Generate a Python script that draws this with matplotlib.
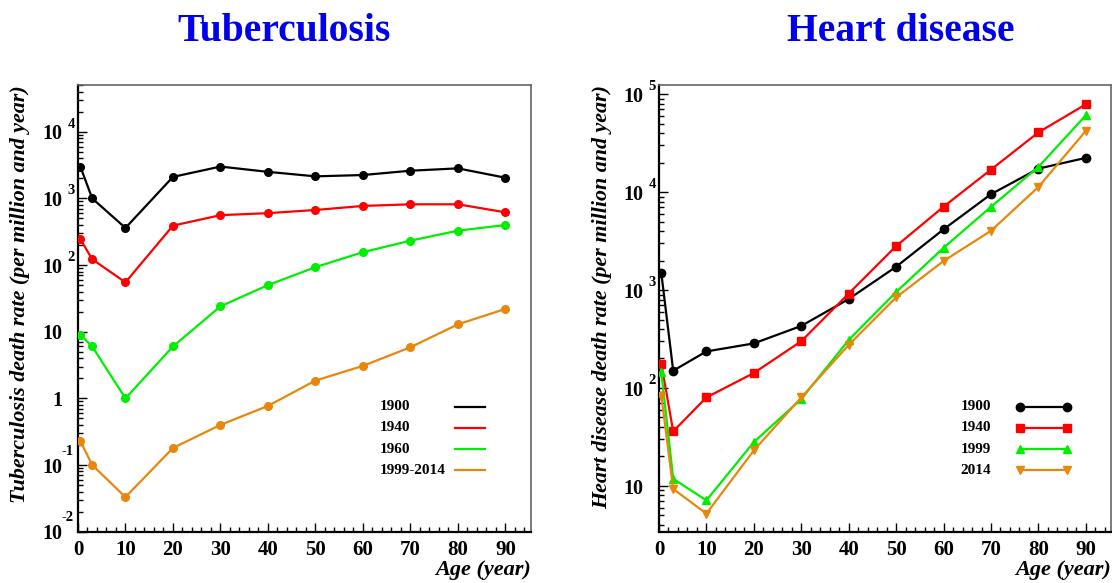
import matplotlib
matplotlib.use("Agg")
import matplotlib.pyplot as plt
import numpy as np
from matplotlib.ticker import LogLocator, MultipleLocator, NullFormatter

plt.rcParams['font.family'] = ['Liberation Serif', 'DejaVu Serif']
plt.rcParams['font.weight'] = 'bold'

# age groups (first point is the under-1 group)
ages = [0.5, 3, 10, 20, 30, 40, 50, 60, 70, 80, 90]

# tuberculosis death rate per million and year
tb_labels = ['1900', '1940', '1960', '1999-2014']
tb_1900 = [3000, 1000, 360, 2100, 3000, 2500, 2140, 2240, 2600, 2820, 2040]
tb_1940 = [245, 122, 55, 390, 560, 600, 670, 770, 815, 815, 617]
tb_1960 = [9, 6, 1, 6, 24, 50, 93, 156, 232, 328, 398]
tb_1999_2014 = [0.23, 0.1, 0.033, 0.18, 0.4, 0.77, 1.85, 3.07, 5.85, 12.9, 22]

# heart disease death rate per million and year
hd_labels = ['1900', '1940', '1999', '2014']
hd_1900 = [1480, 150, 236, 285, 430, 810, 1730, 4170, 9530, 17400, 22400]
hd_1940 = [176, 36, 80, 142, 300, 920, 2810, 7100, 17000, 40800, 79000]
hd_1999 = [144, 11.8, 7.1, 28, 77, 309, 954, 2700, 7080, 18100, 61000]
hd_2014 = [83, 9.3, 5.2, 23, 80, 275, 842, 1980, 4030, 11300, 42300]

colors = ['black', '#ff0000', '#00ee00', '#e8870c']


def style_axes(ax, ylo, yhi):
    ax.set_yscale('log')
    ax.set_xlim(0, 95.3)
    ax.set_ylim(ylo, yhi)
    ax.xaxis.set_major_locator(MultipleLocator(10))
    ax.xaxis.set_minor_locator(MultipleLocator(2))
    ax.yaxis.set_major_locator(LogLocator(base=10, numticks=20))
    ax.yaxis.set_minor_locator(LogLocator(base=10, subs=range(2, 10), numticks=20))
    ax.yaxis.set_major_formatter(NullFormatter())
    ax.yaxis.set_minor_formatter(NullFormatter())
    ax.tick_params(which='both', direction='in', top=False, right=False)
    ax.tick_params(which='major', length=6.5, width=1.0)
    ax.tick_params(which='minor', length=3.5, width=1.0)
    ax.tick_params(axis='x', labelsize=15, pad=6)
    for lab in ax.get_xticklabels():
        lab.set_fontweight('bold')
    for s in ['left', 'bottom']:
        ax.spines[s].set_linewidth(1.6)
        ax.spines[s].set_color('black')
    for s in ['top', 'right']:
        ax.spines[s].set_linewidth(1.2)
        ax.spines[s].set_color('#666666')

    # ROOT-like "10 ^n" labels
    e0 = int(np.ceil(np.log10(ylo) - 1e-9))
    e1 = int(np.floor(np.log10(yhi) + 1e-9))
    for e in range(e0, e1 + 1):
        v = 10.0 ** e
        base = '1' if e == 0 else '10'
        ax.annotate(base, xy=(0, v), xycoords=('axes fraction', 'data'),
                    xytext=(-11, -2), textcoords='offset points',
                    ha='right', va='center', fontsize=14.5, fontweight='bold')
        if e not in (0, 1):
            dx, dy = (-7.5, 5.5) if e > 0 else (-11.5, 10)
            ax.annotate(str(e), xy=(0, v), xycoords=('axes fraction', 'data'),
                        xytext=(dx, dy), textcoords='offset points',
                        ha='left', va='center', fontsize=10.5, fontweight='bold')


fig = plt.figure(figsize=(11.12, 5.83), dpi=100)
ax1 = fig.add_axes([0.0701, 0.088, 0.4071, 0.766])
ax2 = fig.add_axes([0.5926, 0.088, 0.4065, 0.766])

# left: tuberculosis
tb_series = [tb_1900, tb_1940, tb_1960, tb_1999_2014]
for vals, c in zip(tb_series, colors):
    ax1.plot(ages, vals, color=c, lw=1.6, marker='o', ms=5.5, zorder=3)
style_axes(ax1, 1e-2, 5e4)

# right: heart disease
hd_series = [hd_1900, hd_1940, hd_1999, hd_2014]
hd_markers = ['o', 's', '^', 'v']
for vals, c, m in zip(hd_series, colors, hd_markers):
    ax2.plot(ages, vals, color=c, lw=1.6, marker=m, ms=6, zorder=3)
style_axes(ax2, 3.4, 1.24e5)

# legends drawn ROOT style: text first, sample to the right
row_y = [0.280, 0.233, 0.185, 0.138]
for i, (lab, c) in enumerate(zip(tb_labels, colors)):
    ax1.text(0.667, row_y[i], lab, transform=ax1.transAxes, ha='left', va='center',
             fontsize=11, fontweight='bold')
    ax1.plot([0.833, 0.899], [row_y[i]] * 2, transform=ax1.transAxes, color=c, lw=1.6)
for i, (lab, c, m) in enumerate(zip(hd_labels, colors, hd_markers)):
    ax2.text(0.667, row_y[i], lab, transform=ax2.transAxes, ha='left', va='center',
             fontsize=11, fontweight='bold')
    ax2.plot([0.799, 0.902], [row_y[i]] * 2, transform=ax2.transAxes, color=c, lw=1.6,
             marker=m, ms=6)

ax1.text(-0.128, 1.0, 'Tuberculosis death rate (per million and year)', transform=ax1.transAxes,
         rotation=90, ha='center', va='top', fontsize=15.8, fontweight='bold', fontstyle='italic')
ax2.text(-0.126, 1.0, 'Heart disease death rate (per million and year)', transform=ax2.transAxes,
         rotation=90, ha='center', va='top', fontsize=15.8, fontweight='bold', fontstyle='italic')
for ax in (ax1, ax2):
    ax.text(1.0, -0.086, 'Age (year)', transform=ax.transAxes, ha='right', va='center',
            fontsize=16, fontweight='bold', fontstyle='italic')

fig.text(0.2554, 0.946, 'Tuberculosis', ha='center', va='center', fontsize=28.5,
         fontweight='bold', color='#0000ee')
fig.text(0.810, 0.946, 'Heart disease', ha='center', va='center', fontsize=28.5,
         fontweight='bold', color='#0000ee')

fig.savefig('out.png', dpi=100)
